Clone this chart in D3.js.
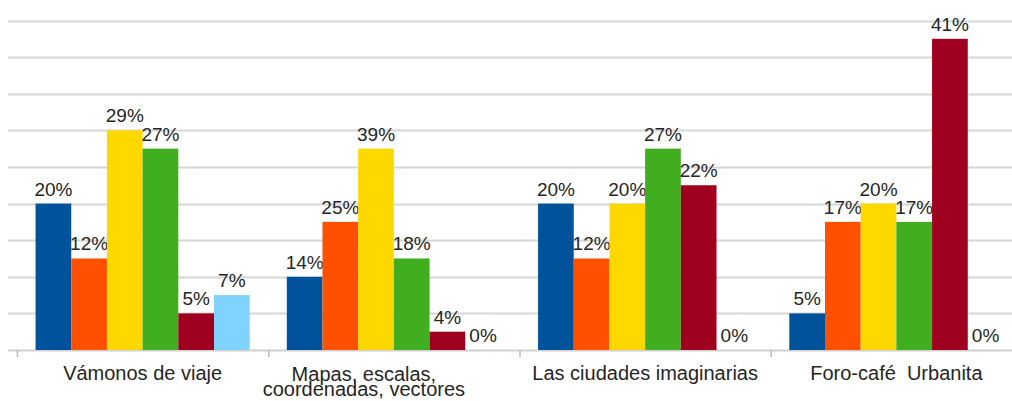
<!DOCTYPE html>
<html>
<head>
<meta charset="utf-8">
<script src="https://cdn.jsdelivr.net/npm/d3@7"></script>
<style>
  body { margin: 0; background: #fff; }
  svg { display: block; }
  text { font-family: "Liberation Sans", Arial, sans-serif; fill: #262626; }
</style>
</head>
<body>
<svg width="1012" height="401"></svg>
<script>
var categories = [
  "Vámonos de viaje",
  "Mapas, escalas,|coordenadas, vectores",
  "Las ciudades imaginarias",
  "Foro-café  Urbanita"
];

var series = ["s1", "s2", "s3", "s4", "s5", "s6"];

var colors = ["#00529B", "#FF5000", "#FFD800", "#40AE1F", "#A0001F", "#80D3FF"];

// bar heights (answers counted), one array per series
var counts_s1 = [8, 4, 8, 2];
var counts_s2 = [5, 7, 5, 7];
var counts_s3 = [12, 11, 8, 8];
var counts_s4 = [11, 5, 11, 7];
var counts_s5 = [2, 1, 9, 17];
var counts_s6 = [3, 0, 0, 0];

// percentage labels shown above the bars
var pct_s1 = [20, 14, 20, 5];
var pct_s2 = [12, 25, 12, 17];
var pct_s3 = [29, 39, 20, 20];
var pct_s4 = [27, 18, 27, 17];
var pct_s5 = [5, 4, 22, 41];
var pct_s6 = [7, 0, 0, 0];

var gridTicks = [2, 4, 6, 8, 10, 12, 14, 16, 18];

var counts = [counts_s1, counts_s2, counts_s3, counts_s4, counts_s5, counts_s6];
var pcts = [pct_s1, pct_s2, pct_s3, pct_s4, pct_s5, pct_s6];

var svg = d3.select("svg");

var y = d3.scaleLinear().domain([0, 18]).range([350, 20.5]);

var x0 = d3.scaleBand().domain(categories).range([17, 1022]);

var x1 = d3.scaleBand()
  .domain(series)
  .range([0, x0.bandwidth()])
  .paddingInner(0)
  .paddingOuter(0.52);

// gridlines
svg.append("g")
  .selectAll("line")
  .data(gridTicks)
  .enter()
  .append("line")
  .attr("x1", 8)
  .attr("x2", 1012)
  .attr("y1", function (d) { return Math.round(y(d)) + 0.5; })
  .attr("y2", function (d) { return Math.round(y(d)) + 0.5; })
  .attr("stroke", "#d6d6d6")
  .attr("stroke-width", 2);

// baseline + ticks
svg.append("line")
  .attr("x1", 8)
  .attr("x2", 1012)
  .attr("y1", y(0) + 0.5)
  .attr("y2", y(0) + 0.5)
  .attr("stroke", "#d0d0d0")
  .attr("stroke-width", 2);

svg.append("g")
  .selectAll("line")
  .data(categories)
  .enter()
  .append("line")
  .attr("x1", function (d) { return x0(d) + 0.5; })
  .attr("x2", function (d) { return x0(d) + 0.5; })
  .attr("y1", y(0))
  .attr("y2", y(0) + 7)
  .attr("stroke", "#bbb")
  .attr("stroke-width", 1.5);

// bars
var groups = svg.append("g")
  .selectAll("g")
  .data(categories)
  .enter()
  .append("g")
  .attr("transform", function (d) { return "translate(" + x0(d) + ",0)"; });

var cells = groups.selectAll("g")
  .data(function (d, ci) {
    return series.map(function (s, si) {
      return { s: s, si: si, v: counts[si][ci], p: pcts[si][ci] };
    });
  })
  .enter()
  .append("g");

cells.append("rect")
  .attr("x", function (d) { return x1(d.s); })
  .attr("width", x1.bandwidth())
  .attr("y", function (d) { return y(d.v); })
  .attr("height", function (d) { return y(0) - y(d.v); })
  .attr("fill", function (d) { return colors[d.si]; });

cells.append("text")
  .attr("x", function (d) { return x1(d.s) + x1.bandwidth() / 2; })
  .attr("y", function (d) { return y(d.v) - 8; })
  .attr("text-anchor", "middle")
  .style("font-size", "19px")
  .text(function (d) { return d.p + "%"; });

// category labels (the wrapped one sits left of its band centre)
function labelX(d) {
  var cx = x0(d) + x0.bandwidth() / 2;
  return d.indexOf("|") >= 0 ? cx - 30 : cx;
}

var labels = svg.append("g")
  .selectAll("text")
  .data(categories)
  .enter()
  .append("text")
  .attr("text-anchor", "middle")
  .attr("x", labelX)
  .attr("y", function (d) { return d.indexOf("|") >= 0 ? 381 : 380; })
  .style("font-size", "20px")
  .style("white-space", "pre");

labels.each(function (d) {
  var parts = d.split("|");
  var t = d3.select(this);
  parts.forEach(function (p, i) {
    t.append("tspan")
      .attr("x", labelX(d))
      .attr("dy", i === 0 ? 0 : 15)
      .text(p);
  });
});
</script>
</body>
</html>
